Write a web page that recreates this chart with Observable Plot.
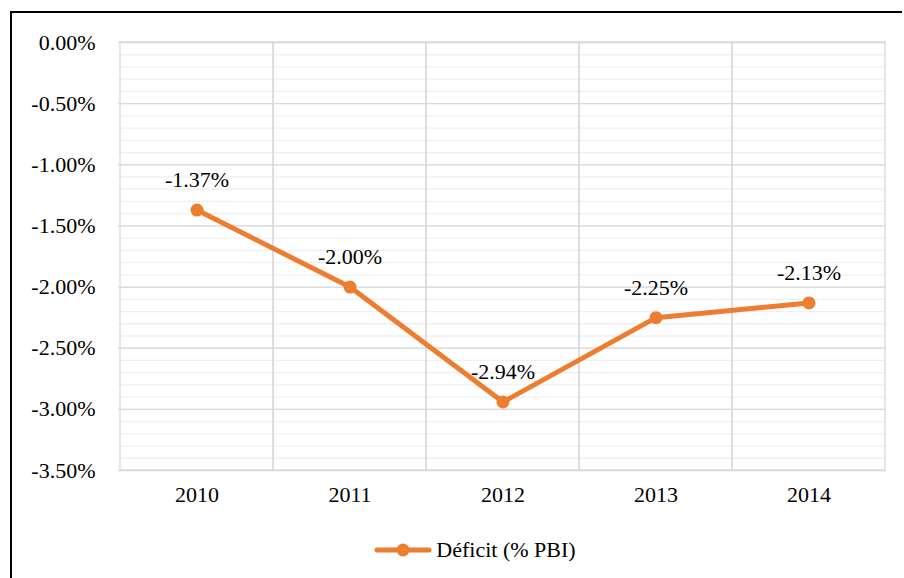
<!DOCTYPE html>
<html>
<head>
<meta charset="utf-8">
<script src="https://cdn.jsdelivr.net/npm/d3@7"></script>
<script src="https://cdn.jsdelivr.net/npm/@observablehq/plot@0.6"></script>
</head>
<body style="margin:0;padding:0;background:#fff;font-family:'Times New Roman'">
<div style="position:absolute;left:10px;top:11px;width:890px;height:570px;border-left:2px solid #000;border-top:2px solid #000"></div>
<div id="chart" style="position:absolute;left:0;top:0"></div>
<div id="legend" style="position:absolute;left:0;top:537px;width:904px;text-align:center;font-family:'Times New Roman';font-size:22px;color:#000"><span style="display:inline-flex;align-items:center;margin-left:46px"><svg width="58" height="20" style="margin-right:4px"><line x1="3" y1="10" x2="55" y2="10" stroke="#ED7D31" stroke-width="5" stroke-linecap="round"/><circle cx="29" cy="10" r="6.5" fill="#ED7D31"/></svg><span style="font-family:'Times New Roman'">Déficit (% PBI)</span></span></div>
<script>
const years = ["2010", "2011", "2012", "2013", "2014"];
const deficit = [-1.37, -2.00, -2.94, -2.25, -2.13];
const majorTicks = [0, -0.5, -1.0, -1.5, -2.0, -2.5, -3.0, -3.5];
const minorTicks = d3.range(0, 36).map(i => -i / 10);

const data = years.map((y, i) => ({year: y, value: deficit[i]}));
const fmt = v => v.toFixed(2) + "%";
const serif = "Times New Roman";

const chart = Plot.plot({
  width: 904,
  height: 520,
  marginLeft: 118,
  marginRight: 18,
  marginTop: 42,
  marginBottom: 50,
  style: {fontFamily: serif, fontSize: "22px", color: "#000", background: "transparent"},
  x: {type: "band", domain: years, padding: 0, label: null},
  y: {domain: [-3.5, 0], label: null},
  marks: [
    Plot.ruleY(minorTicks, {stroke: "#f0f0f0", strokeWidth: 1.3}),
    Plot.ruleY(majorTicks, {stroke: "#d9d9d9", strokeWidth: 1.3}),
    Plot.barY(years, {x: d => d, y1: -3.5, y2: 0, fill: "none", stroke: "#d9d9d9", strokeWidth: 1.3, inset: 0}),
    Plot.axisY({ticks: majorTicks, tickSize: 0, tickPadding: 23, tickFormat: fmt, fontSize: 22, fontFamily: serif}),
    Plot.axisX({tickSize: 0, tickPadding: 16, fontSize: 22, fontFamily: serif}),
    Plot.line(data, {x: "year", y: "value", stroke: "#ED7D31", strokeWidth: 5}),
    Plot.dot(data, {x: "year", y: "value", r: 6.5, fill: "#ED7D31"}),
    Plot.text(data, {x: "year", y: "value", text: d => fmt(d.value), dy: -30, fontSize: 22, fontFamily: serif, fill: "#000"})
  ]
});
chart.setAttribute("font-family", serif);
chart.style.fontFamily = serif;
chart.querySelectorAll("text").forEach(t => { t.style.fontFamily = serif; });
document.getElementById("chart").appendChild(chart);
</script>
</body>
</html>
